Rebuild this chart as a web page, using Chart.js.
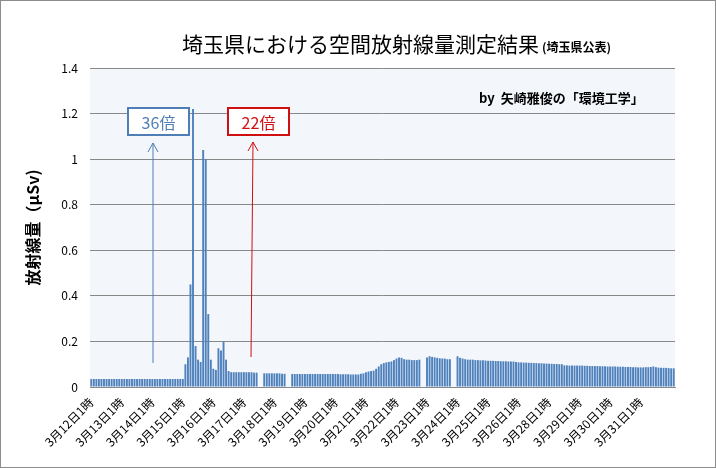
<!DOCTYPE html>
<html><head><meta charset="utf-8">
<script src="https://cdn.jsdelivr.net/npm/chart.js@4"></script>
<style>
html,body{margin:0;padding:0;background:#fff}
#wrap{position:relative;width:714px;height:466px;border:1px solid #8c8c8c}
</style></head>
<body><div id="wrap"><canvas id="c" width="714" height="466"></canvas></div>
<script>
/* ── データ（2時間ごと） ───────────────────────────── */
const DAYS = ['3月12日1時','3月13日1時','3月14日1時','3月15日1時','3月16日1時','3月17日1時','3月18日1時',
  '3月19日1時','3月20日1時','3月21日1時','3月22日1時','3月23日1時','3月24日1時','3月25日1時','3月26日1時',
  '3月28日1時','3月29日1時','3月30日1時','3月31日1時'];

const d12 = [0.035,0.035,0.035,0.035,0.035,0.035,0.035,0.035,0.035,0.035,0.035,0.035];
const d13 = [0.035,0.035,0.035,0.035,0.035,0.035,0.035,0.035,0.035,0.035,0.035,0.035];
const d14 = [0.035,0.035,0.035,0.035,0.035,0.035,0.035,0.035,0.035,0.035,0.035,0.035];
const d15 = [0.035,0.1,0.13,0.45,1.22,0.18,0.12,0.11,1.04,1.0,0.32,0.12];
const d16 = [0.08,0.075,0.17,0.16,0.2,0.12,0.07,0.065,0.065,0.065,0.065,0.065];
const d17 = [0.065,0.065,0.065,0.065,0.063,0.063,null,null,0.06,0.06,0.06,0.06];
const d18 = [0.06,0.06,0.06,0.058,0.058,null,null,0.057,0.057,0.057,0.057,0.057];
const d19 = [0.057,0.057,0.057,0.057,0.057,0.057,0.057,0.057,0.057,0.057,0.057,0.057];
const d20 = [0.057,0.057,0.056,0.056,0.056,0.056,0.055,0.055,0.055,0.055,0.058,0.06];
const d21 = [0.065,0.068,0.07,0.072,0.08,0.09,0.1,0.105,0.108,0.11,0.112,0.118];
const d22 = [0.125,0.13,0.128,0.122,0.12,0.12,0.118,0.118,0.118,0.12,null,null];
const d23 = [0.13,0.135,0.132,0.13,0.128,0.126,0.125,0.125,0.122,0.122,null,null];
const d24 = [0.135,0.128,0.125,0.122,0.12,0.12,0.12,0.118,0.118,0.117,0.117,0.116];
const d25 = [0.115,0.115,0.115,0.114,0.114,0.113,0.113,0.113,0.112,0.112,0.112,0.11];
const d26 = [0.108,0.108,0.107,0.107,0.106,0.106,0.105,0.105,0.104,0.104,0.103,0.103];
const d28 = [0.102,0.102,0.101,0.101,0.1,0.1,0.095,0.095,0.094,0.094,0.094,0.094];
const d29 = [0.094,0.094,0.093,0.093,0.092,0.092,0.092,0.092,0.091,0.091,0.091,0.09];
const d30 = [0.09,0.09,0.09,0.089,0.089,0.089,0.088,0.088,0.088,0.087,0.087,0.086];
const d31 = [0.086,0.086,0.087,0.087,0.088,0.09,0.087,0.085,0.085,0.084,0.084,0.083,0.082,0.082];

const Y_TICKS = [0,0.2,0.4,0.6,0.8,1,1.2,1.4];
const SERIES = [d12,d13,d14,d15,d16,d17,d18,d19,d20,d21,d22,d23,d24,d25,d26,d28,d29,d30,d31];

// ── ラベルと値の組み立て ──────────────────────────────
const labels = [], values = [];
SERIES.forEach((arr, i) => arr.forEach((v, j) => { labels.push(j === 0 ? DAYS[i] : ''); values.push(v); }));

const FONT = '"Noto Sans CJK JP", sans-serif';

const deco = {
  id: 'deco',
  beforeDraw(ch) {
    const { ctx, chartArea: a } = ch;
    ctx.save();
    ctx.fillStyle = '#f3f7fb';
    ctx.fillRect(a.left, a.top, a.right - a.left, a.bottom - a.top);
    ctx.restore();
  },
  afterDraw(ch) {
    const ctx = ch.ctx;
    ctx.save();
    // タイトル
    ctx.fillStyle = '#000'; ctx.textBaseline = 'middle';
    ctx.font = '21px ' + FONT;
    ctx.fillText('埼玉県における空間放射線量測定結果', 181, 43);
    ctx.font = 'bold 12px ' + FONT;
    ctx.fillText('(埼玉県公表)', 541, 46);
    ctx.font = 'bold 13px ' + FONT;
    ctx.fillText('by  矢崎雅俊の「環境工学」', 478, 97);
    // 36倍 / 22倍
    const box = (x, y, w, h, col, txt) => {
      ctx.fillStyle = '#fff'; ctx.fillRect(x, y, w, h);
      ctx.strokeStyle = col; ctx.lineWidth = 2; ctx.strokeRect(x, y, w, h);
      ctx.fillStyle = col; ctx.font = '16px ' + FONT; ctx.textAlign = 'center';
      ctx.fillText(txt, x + w / 2, y + h / 2 + 1); ctx.textAlign = 'left';
    };
    box(127, 107, 61, 27, '#4f7db5', '36倍');
    box(227, 107, 61, 27, '#d01010', '22倍');
    const arrow = (x0, y0, x1, y1, col) => {
      ctx.strokeStyle = col; ctx.lineWidth = 1;
      ctx.beginPath(); ctx.moveTo(x0, y0); ctx.lineTo(x1, y1);
      ctx.moveTo(x1 - 5, y1 + 9); ctx.lineTo(x1, y1); ctx.lineTo(x1 + 5, y1 + 9); ctx.stroke();
    };
    arrow(152, 362, 152, 142, '#4f7db5');
    arrow(250, 356, 252, 141, '#d01010');
    ctx.restore();
  }
};

new Chart(document.getElementById('c'), {
  type: 'bar',
  data: { labels, datasets: [{ data: values, backgroundColor: '#4f81bd', categoryPercentage: 1, barPercentage: 0.75 }] },
  plugins: [deco],
  options: {
    responsive: false, animation: false,
    layout: { padding: { top: 67, right: 40, left: 22, bottom: 0 } },
    plugins: { legend: { display: false }, tooltip: { enabled: false } },
    scales: {
      x: {
        afterFit: s => { s.height = 80; },
        grid: { display: false }, border: { color: '#888' },
        ticks: { autoSkip: false, maxRotation: 45, minRotation: 45, color: '#000',
          font: { family: FONT, size: 12 }, padding: 0,
          callback: (v, i) => labels[i] }
      },
      y: {
        min: 0, max: 1.4, afterFit: s => { s.width = 67; },
        afterBuildTicks: s => { s.ticks = Y_TICKS.map(v => ({ value: v })); },
        grid: { color: '#888', drawTicks: false }, border: { display: false },
        ticks: { color: '#000', font: { family: FONT, size: 12 }, padding: 12,
          callback: v => String(+v.toFixed(1)) },
        title: { display: true, text: '放射線量（μSv)', color: '#000', padding: 0, font: { family: FONT, size: 16, weight: 'bold' } }
      }
    }
  }
});
</script></body></html>
